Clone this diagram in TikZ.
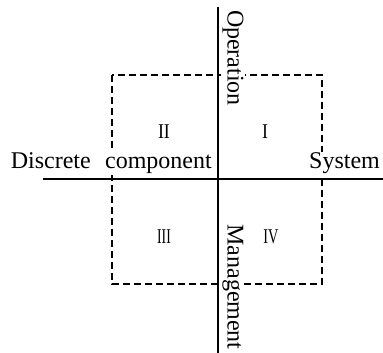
\documentclass[tikz,border=0pt]{standalone}
\usepackage{fontspec}
\setmainfont{Liberation Serif}
\usepackage{tikz}
\usetikzlibrary{positioning, calc}

\begin{document}
\begin{tikzpicture}[x=1pt, y=1pt,
                    axis/.style={line width=1.6pt},
                    quad/.style={draw, dashed, line width=1.5pt, dash pattern=on 7pt off 4pt},
                    lbl/.style={font=\fontsize{24}{28}\selectfont, inner sep=1pt, fill=white},
                    vlbl/.style={lbl, rotate=-90},
                    num/.style={font=\fontsize{21}{24}\selectfont, inner sep=0pt}]

    \useasboundingbox (-218,-174) rectangle (165,179);

    % Quadrant frame
    \draw[quad] (-106,104) rectangle (104,-105);

    % Axis labels
    \node[vlbl] (op) at (15,121) {Operation};
    \node[vlbl] (mg) at (15,-108) {Management};
    \node[lbl, anchor=base east] (dc) at (-5,10) {Discrete\hspace{0.6em}component};
    \node[lbl, anchor=base west] (sy) at (90,10) {System};

    % Axes
    \coordinate (top) at (0,172);
    \coordinate (bot) at (0,-174);
    \coordinate (lft) at (-175,0);
    \coordinate (rgt) at (165,0);
    \draw[axis] (top) -- (bot);
    \draw[axis] (lft) -- (rgt);

    % Quadrant numbers
    \node[num, xscale=0.85] (q1) at (47,47) {I};
    \node[num, xscale=0.85] (q2) at (-54,47) {II};
    \node[num, xscale=0.65] (q3) at (-54,-58) {III};
    \node[num, xscale=0.68] (q4) at (53,-58) {IV};

\end{tikzpicture}
\end{document}
